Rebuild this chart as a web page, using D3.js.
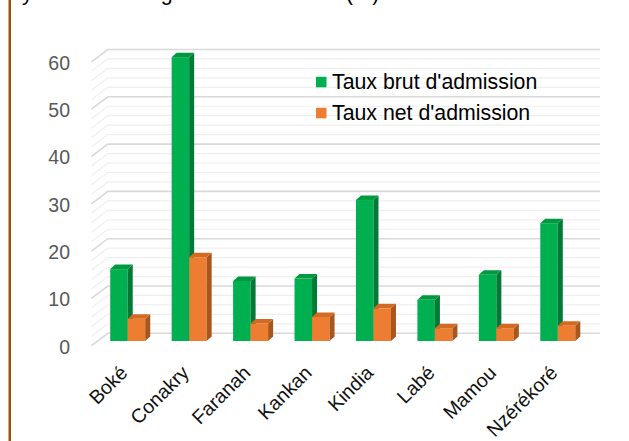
<!DOCTYPE html>
<html><head><meta charset="utf-8">
<script src="https://cdn.jsdelivr.net/npm/d3@7"></script>
<style>html,body{margin:0;padding:0;background:#fff;overflow:hidden}svg{display:block}</style>
</head><body>
<svg id="chart" width="629" height="441"></svg>
<script>
const categories = ["Boké","Conakry","Faranah","Kankan","Kindia","Labé","Mamou","Nzérékoré"];
const seriesNames = ["Taux brut d'admission","Taux net d'admission"];
const tauxBrut = [15.2, 60.0, 12.7, 13.2, 29.8, 8.7, 14.0, 24.9];
const tauxNet  = [4.7, 17.7, 3.7, 5.1, 6.9, 2.7, 2.7, 3.2];
const yTicks = [0,10,20,30,40,50,60];
const titleText = "yés selon la région administrative (%)";

const colors = {
  front: ["#00B050","#ED7D31"],
  side:  ["#007A35","#A9561C"],
  top:   ["#00993F","#D46A22"]
};
const font = "'Liberation Sans', Arial, sans-serif";
const svg = d3.select("#chart");

// left border
svg.append("rect").attr("x",8.5).attr("y",0).attr("width",2.5).attr("height",441).attr("fill","#A0500E");

// clipped title (only its lowest pixels show, as in the reference)
svg.append("text").attr("x",22).attr("y",0).attr("font-family",font).attr("font-size",21.5)
  .attr("fill","#000").text(titleText);

const x = d3.scaleBand().domain(categories).range([97,588.5]).paddingInner(0.43).paddingOuter(0.215);
const xs = d3.scaleBand().domain(seriesNames).range([0,x.bandwidth()]);
const yFront = d3.scaleLinear().domain([0,60]).range([341,57.2]);
const yBack = d3.scaleLinear().domain([0,60]).range([333.3,49.5]);
const wallL = 107.8, wallR = 600, diagDx = 16.3, diagDy = 12.4;

// gridlines
const grid = svg.append("g");
const minor = yBack.ticks(30).filter(v => v % 10 !== 0);
function gridLine(v, color, w){
  const yb = yBack(v);
  grid.append("path").attr("d",`M${wallL-diagDx},${yb+diagDy}L${wallL},${yb}L${wallR},${yb}`)
    .attr("fill","none").attr("stroke",color).attr("stroke-width",w);
}
minor.forEach(v => gridLine(v,"#EFEFEF",1.2));
yTicks.forEach(v => gridLine(v,"#D9D9D9",1.6));

// y labels
svg.append("g").selectAll("text").data(yTicks).join("text")
  .attr("x",70).attr("y",d => yBack(d)+diagDy+1).attr("dy","0.35em")
  .attr("text-anchor","end").attr("font-family",font).attr("font-size",19.5)
  .attr("fill","#595959").text(d => d);

// bars
const dx = 5, dy = 4.5;
const data = categories.map((c,i) => ({cat:c, vals:[tauxBrut[i], tauxNet[i]]}));
const bars = svg.append("g");
data.forEach(d => {
  d.vals.forEach((v,si) => {
    const x0 = x(d.cat) + xs(seriesNames[si]);
    const x1 = x0 + xs.bandwidth();
    const yt = yFront(v), yb = yFront(0);
    bars.append("rect").attr("x",x0).attr("y",yt).attr("width",x1-x0).attr("height",yb-yt)
      .attr("fill",colors.front[si]);
    bars.append("path").attr("d",`M${x1},${yt}L${x1+dx},${yt-dy}L${x1+dx},${yb-dy}L${x1},${yb}Z`)
      .attr("fill",colors.side[si]);
    bars.append("path").attr("d",`M${x0},${yt}L${x0+dx},${yt-dy}L${x1+dx},${yt-dy}L${x1},${yt}Z`)
      .attr("fill",colors.top[si]);
  });
});

// x labels
svg.append("g").selectAll("text").data(categories).join("text")
  .attr("transform",d => `translate(${x(d)+x.bandwidth()/2+1},374) rotate(-45)`)
  .attr("text-anchor","end").attr("font-family",font).attr("font-size",19.6)
  .attr("fill","#111").text(d => d);

// legend
const leg = svg.append("g");
seriesNames.forEach((s,i) => {
  const cy = 82 + i*31;
  leg.append("rect").attr("x",316).attr("y",cy-5.2).attr("width",10.5).attr("height",10.5).attr("fill",colors.front[i]);
  leg.append("text").attr("x",332).attr("y",cy).attr("dy","0.35em").attr("font-family",font)
    .attr("font-size",21.3).attr("fill","#000").text(s);
});
</script>
</body></html>
